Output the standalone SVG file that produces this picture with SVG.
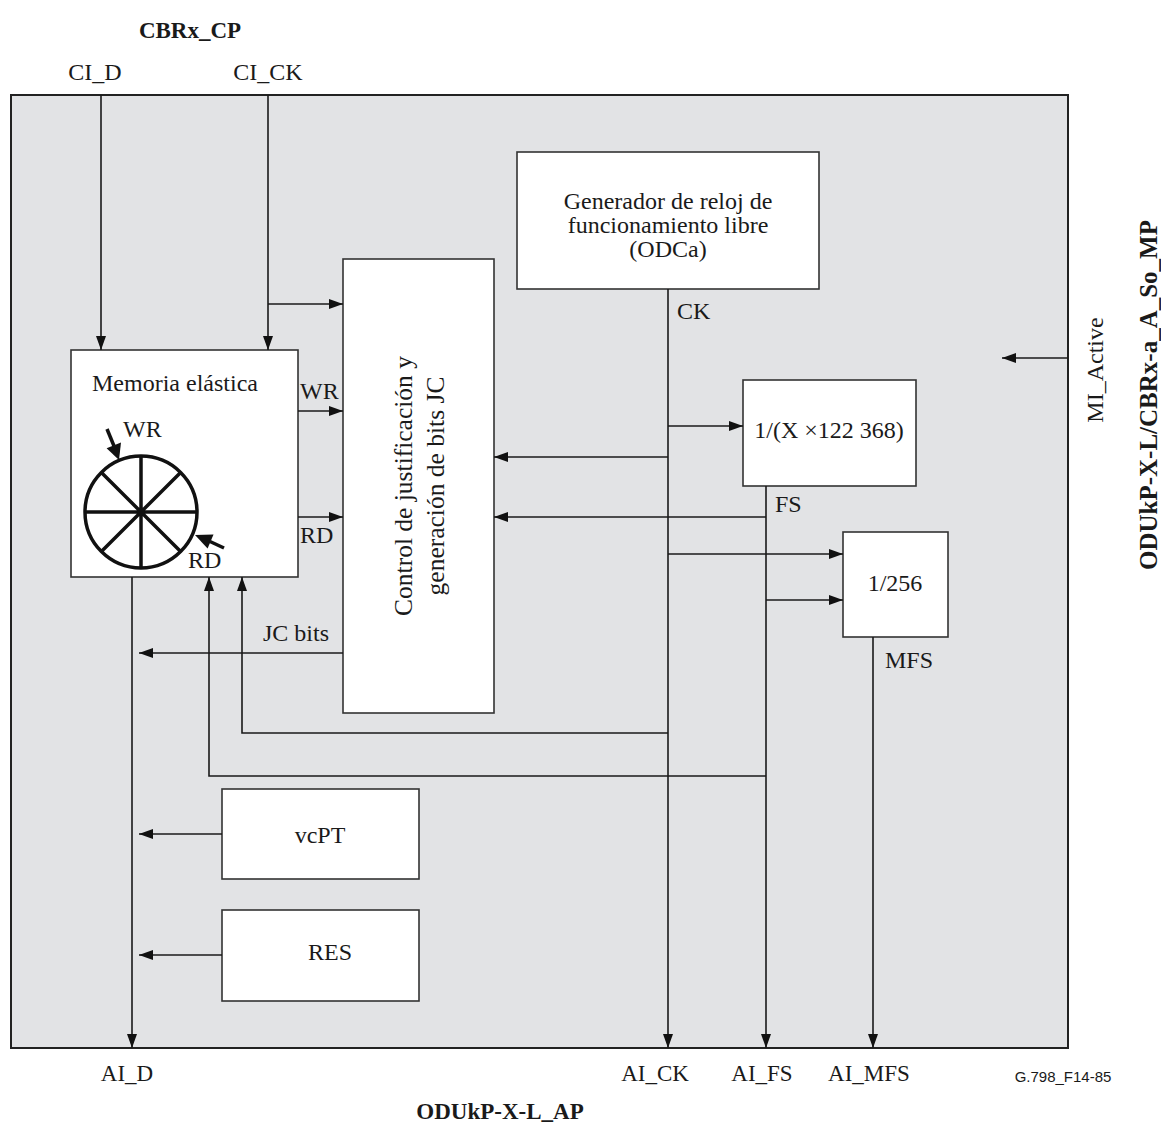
<svg xmlns="http://www.w3.org/2000/svg" width="1161" height="1129" viewBox="0 0 1161 1129">
<style>
.t{font-family:"Liberation Serif","Times New Roman",serif;font-size:24px;fill:#1a1a1a}
.s{font-size:23px}
.b{font-family:"Liberation Serif","Times New Roman",serif;font-size:23px;font-weight:bold;fill:#1a1a1a}
.m{text-anchor:middle}
.box{fill:#ffffff;stroke:#333333;stroke-width:1.6}
.ln{fill:none;stroke:#1a1a1a;stroke-width:1.6}
.ar{marker-end:url(#ah)}
.thick{fill:none;stroke:#111111;stroke-width:3.5}
</style>
<defs>
<marker id="ah" markerUnits="userSpaceOnUse" viewBox="0 0 14 10" refX="14" refY="5" markerWidth="14" markerHeight="10" orient="auto">
<path d="M0,0 L14,5 L0,10 z" fill="#111111"/>
</marker>
</defs>
<rect width="1161" height="1129" fill="#ffffff"/>
<g id="frame">
<rect x="11" y="95" width="1057" height="953" fill="#e2e3e5" stroke="#222222" stroke-width="2"/>
</g>
<g id="titles">
<text class="b m" x="190" y="38">CBRx_CP</text>
<text class="t m" x="95" y="80">CI_D</text>
<text class="t m" x="268" y="80">CI_CK</text>
<text class="b m" x="500" y="1119">ODUkP-X-L_AP</text>
<text class="t s m" x="127" y="1081">AI_D</text>
<text class="t s m" x="655" y="1081">AI_CK</text>
<text class="t s m" x="762" y="1081">AI_FS</text>
<text class="t s m" x="869" y="1081">AI_MFS</text>
<text x="1063" y="1082" text-anchor="middle" style="font-family:'Liberation Sans',Arial,sans-serif;font-size:15px;fill:#1a1a1a">G.798_F14-85</text>
<text class="t m" transform="translate(1103,370) rotate(-90)">MI_Active</text>
<text class="b m" style="font-size:25px" transform="translate(1157,395) rotate(-90)">ODUkP-X-L/CBRx-a_A_So_MP</text>
</g>
<g id="memoria">
<rect class="box" x="71" y="350" width="227" height="227"/>
<text class="t m" x="175" y="391">Memoria elástica</text>
<circle cx="141" cy="512" r="56" class="thick" fill="none"/>
<path class="thick" d="M85,512 H197 M141,456 V568 M101.4,472.4 L180.6,551.6 M101.4,551.6 L180.6,472.4"/>
<path class="thick" d="M107,429 L114,446"/>
<polygon points="119,460 106.6,448.2 121,442.6" fill="#111111"/>
<text class="t" x="123" y="437">WR</text>
<path class="thick" d="M224,548 L210,541.5"/>
<polygon points="195,535 213.5,534.6 207.6,548.6" fill="#111111"/>
<text class="t" x="188" y="568">RD</text>
</g>
<g id="control">
<rect class="box" x="343" y="259" width="151" height="454"/>
<text class="t m" style="font-size:25.5px" transform="translate(412,486) rotate(-90)"><tspan x="0" y="0">Control de justificación y</tspan><tspan x="0" y="32">generación de bits JC</tspan></text>
</g>
<g id="generador">
<rect class="box" x="517" y="152" width="302" height="137"/>
<text class="t m" x="668" y="209">Generador de reloj de</text>
<text class="t m" x="668" y="233">funcionamiento libre</text>
<text class="t m" x="668" y="257">(ODCa)</text>
</g>
<g id="div122368">
<rect class="box" x="743" y="380" width="173" height="106"/>
<text class="t m" x="829" y="438">1/(X ×122 368)</text>
</g>
<g id="div256">
<rect class="box" x="843" y="532" width="105" height="105"/>
<text class="t m" x="895" y="591">1/256</text>
</g>
<g id="vcpt">
<rect class="box" x="222" y="789" width="197" height="90"/>
<text class="t m" x="320" y="843">vcPT</text>
</g>
<g id="res">
<rect class="box" x="222" y="910" width="197" height="91"/>
<text class="t m" x="330" y="960">RES</text>
</g>
<g id="connectors">
<path class="ln ar" d="M101,95 V350"/>
<path class="ln ar" d="M268,95 V350"/>
<path class="ln ar" d="M268,304 H343"/>
<path class="ln ar" d="M298,411 H343"/>
<path class="ln ar" d="M298,517 H343"/>
<path class="ln ar" d="M343,653 H139"/>
<path class="ln ar" d="M132,577 V1048"/>
<path class="ln ar" d="M222,834 H139"/>
<path class="ln ar" d="M222,955 H139"/>
<path class="ln ar" d="M668,289 V1048"/>
<path class="ln ar" d="M668,426 H743"/>
<path class="ln ar" d="M668,457 H494"/>
<path class="ln ar" d="M766,486 V1048"/>
<path class="ln ar" d="M766,517 H494"/>
<path class="ln ar" d="M668,554 H843"/>
<path class="ln ar" d="M766,600 H843"/>
<path class="ln ar" d="M873,637 V1048"/>
<path class="ln ar" d="M668,733 H242 V577"/>
<path class="ln ar" d="M766,776 H209 V577"/>
<path class="ln ar" d="M1068,358 H1002"/>
<text class="t" x="300" y="399">WR</text>
<text class="t" x="300" y="543">RD</text>
<text class="t" x="263" y="641">JC bits</text>
<text class="t" x="677" y="319">CK</text>
<text class="t" x="775" y="512">FS</text>
<text class="t" x="885" y="668">MFS</text>
</g>
</svg>
